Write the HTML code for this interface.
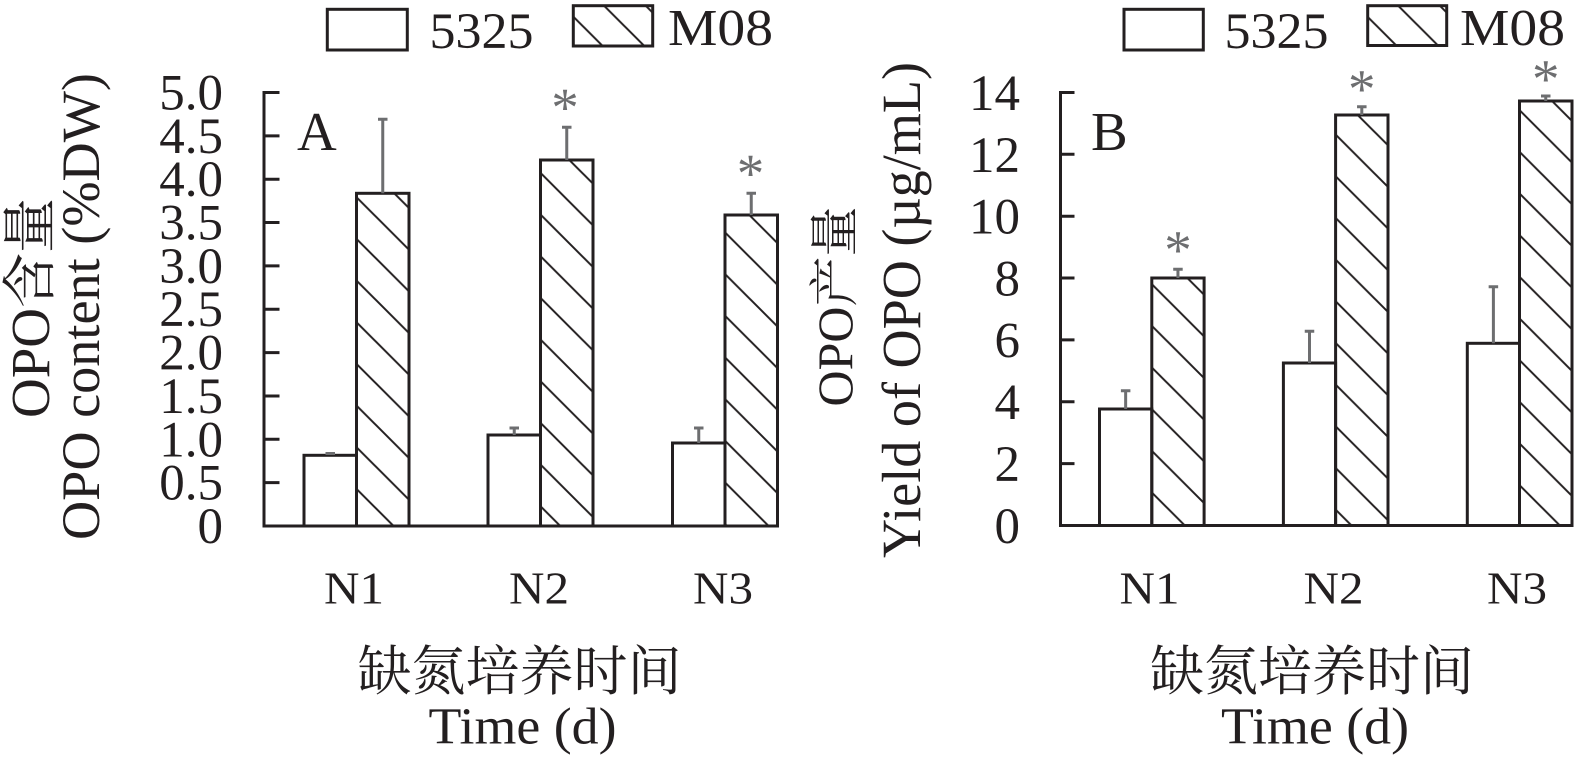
<!DOCTYPE html>
<html>
<head>
<meta charset="utf-8">
<style>
html,body{margin:0;padding:0;background:#fff;}
svg{display:block;}
text{font-family:"Liberation Serif","Noto Serif CJK SC",serif;fill:#231f20;}
.cjk{font-family:"Liberation Serif","Noto Serif CJK SC","Noto Sans CJK SC",serif;}
.star{fill:#6d6e70;font-size:55px;}
</style>
</head>
<body>
<svg width="1575" height="766" viewBox="0 0 1575 766" xmlns="http://www.w3.org/2000/svg">
<defs>
  <pattern id="h" patternUnits="userSpaceOnUse" x="0" y="7.4" width="41.67" height="41.67">
    <path d="M-10,-10 L51.67,51.67 M-51.67,-10 L10,51.67 M31.67,-10 L93.34,51.67" stroke="#231f20" stroke-width="2" fill="none"/>
  </pattern>
  <pattern id="hA" patternUnits="userSpaceOnUse" x="0" y="26.7" width="41.67" height="41.67">
    <path d="M-10,-10 L51.67,51.67 M-51.67,-10 L10,51.67 M31.67,-10 L93.34,51.67" stroke="#231f20" stroke-width="2" fill="none"/>
  </pattern>
  <pattern id="hB" patternUnits="userSpaceOnUse" x="0" y="24.3" width="41.67" height="41.67">
    <path d="M-10,-10 L51.67,51.67 M-51.67,-10 L10,51.67 M31.67,-10 L93.34,51.67" stroke="#231f20" stroke-width="2" fill="none"/>
  </pattern>
</defs>

<!-- ===================== Panel A ===================== -->
<rect x="327.3" y="9.3" width="80" height="40.7" fill="#fff" stroke="#231f20" stroke-width="3"/>
<text x="429.5" y="48" font-size="51" textLength="104" lengthAdjust="spacingAndGlyphs">5325</text>
<rect x="573.3" y="5.7" width="79.4" height="40.3" fill="url(#hA)" stroke="#231f20" stroke-width="3"/>
<text x="668" y="45" font-size="52" textLength="105" lengthAdjust="spacingAndGlyphs">M08</text>

<text class="cjk" transform="translate(49,308) rotate(-90)" text-anchor="middle" font-size="55">OPO含量</text>
<text transform="translate(99,306.5) rotate(-90)" text-anchor="middle" font-size="54" textLength="467" lengthAdjust="spacingAndGlyphs">OPO content (%DW)</text>

<g font-size="51" text-anchor="end">
  <text x="223" y="543">0</text>
  <text x="223" y="499.6">0.5</text>
  <text x="223" y="456.3">1.0</text>
  <text x="223" y="413">1.5</text>
  <text x="223" y="369.6">2.0</text>
  <text x="223" y="326.2">2.5</text>
  <text x="223" y="282.9">3.0</text>
  <text x="223" y="239.5">3.5</text>
  <text x="223" y="196.2">4.0</text>
  <text x="223" y="152.8">4.5</text>
  <text x="223" y="109.5">5.0</text>
</g>

<text x="297" y="150" font-size="55">A</text>

<g stroke="#231f20" stroke-width="3">
  <rect x="304" y="455.3" width="52.5" height="70.7" fill="#fff"/>
  <rect x="356.5" y="193.3" width="52.5" height="332.7" fill="url(#h)"/>
  <rect x="488" y="435" width="52.5" height="91" fill="#fff"/>
  <rect x="540.5" y="160" width="52.5" height="366" fill="url(#h)"/>
  <rect x="672.5" y="443" width="52.5" height="83" fill="#fff"/>
  <rect x="725" y="215" width="52.5" height="311" fill="url(#h)"/>
</g>

<g stroke="#6d6e70" stroke-width="3" fill="none">
  <path d="M325.5,453.5 H335"/>
  <path d="M514.25,435 V428 M509.5,428 H519"/>
  <path d="M698.75,443 V428 M694,428 H703.5"/>
  <path d="M382.75,193.3 V119.3 M378,119.3 H387.5"/>
  <path d="M566.75,160 V127.3 M562,127.3 H571.5"/>
  <path d="M751.25,215 V193.3 M746.5,193.3 H756"/>
</g>
<text class="star" x="565" y="126" text-anchor="middle">*</text>
<text class="star" x="750.5" y="192" text-anchor="middle">*</text>

<g stroke="#231f20" stroke-width="3" fill="none" stroke-linecap="square">
  <path d="M278,92.5 H264 V526 H777.5"/>
  <path d="M264,135.85 H278 M264,179.2 H278 M264,222.55 H278 M264,265.9 H278 M264,309.25 H278 M264,352.6 H278 M264,395.95 H278 M264,439.3 H278 M264,482.65 H278"/>
</g>

<g font-size="46" text-anchor="middle">
  <text x="354" y="603.3" textLength="60" lengthAdjust="spacingAndGlyphs">N1</text>
  <text x="539" y="603.3" textLength="60" lengthAdjust="spacingAndGlyphs">N2</text>
  <text x="723" y="603.3" textLength="60" lengthAdjust="spacingAndGlyphs">N3</text>
</g>
<text class="cjk" x="519.5" y="690" font-size="54" text-anchor="middle" textLength="324" lengthAdjust="spacingAndGlyphs">缺氮培养时间</text>
<text x="522.5" y="743.3" font-size="52" text-anchor="middle" textLength="188" lengthAdjust="spacingAndGlyphs">Time (d)</text>

<!-- ===================== Panel B ===================== -->
<rect x="1124" y="9.3" width="79.3" height="40.7" fill="#fff" stroke="#231f20" stroke-width="3"/>
<text x="1224.5" y="48" font-size="51" textLength="104" lengthAdjust="spacingAndGlyphs">5325</text>
<rect x="1367.7" y="5.7" width="79" height="39.8" fill="url(#hB)" stroke="#231f20" stroke-width="3"/>
<text x="1460" y="45" font-size="52" textLength="105" lengthAdjust="spacingAndGlyphs">M08</text>

<text class="cjk" transform="translate(852,306.5) rotate(-90)" text-anchor="middle" font-size="50">OPO产量</text>
<text transform="translate(920,310) rotate(-90)" text-anchor="middle" font-size="55" textLength="496" lengthAdjust="spacingAndGlyphs">Yield of OPO (µg/mL)</text>

<g font-size="51" text-anchor="end">
  <text x="1020" y="543">0</text>
  <text x="1020" y="481.1">2</text>
  <text x="1020" y="419.2">4</text>
  <text x="1020" y="357.4">6</text>
  <text x="1020" y="295.5">8</text>
  <text x="1020" y="233.7">10</text>
  <text x="1020" y="171.8">12</text>
  <text x="1020" y="110">14</text>
</g>

<text x="1091" y="150" font-size="55">B</text>

<g stroke="#231f20" stroke-width="3">
  <rect x="1099.5" y="409" width="52.3" height="116.5" fill="#fff"/>
  <rect x="1151.8" y="278" width="52.3" height="247.5" fill="url(#h)"/>
  <rect x="1283.4" y="363" width="52.2" height="162.5" fill="#fff"/>
  <rect x="1335.6" y="115" width="52.4" height="410.5" fill="url(#h)"/>
  <rect x="1467.3" y="343.3" width="52.2" height="182.2" fill="#fff"/>
  <rect x="1519.5" y="101" width="52.5" height="424.5" fill="url(#h)"/>
</g>

<g stroke="#6d6e70" stroke-width="3" fill="none">
  <path d="M1125.65,409 V390.7 M1120.9,390.7 H1130.4"/>
  <path d="M1309.5,363 V331.3 M1304.75,331.3 H1314.25"/>
  <path d="M1493.4,343.3 V286.7 M1488.65,286.7 H1498.15"/>
  <path d="M1177.95,278 V269.3 M1173.2,269.3 H1182.7"/>
  <path d="M1361.8,115 V106.7 M1357.05,106.7 H1366.55"/>
  <path d="M1545.75,101 V96 M1541,96 H1550.5"/>
</g>
<text class="star" x="1178" y="268.7" text-anchor="middle">*</text>
<text class="star" x="1361.8" y="107.7" text-anchor="middle">*</text>
<text class="star" x="1545.7" y="97.7" text-anchor="middle">*</text>

<g stroke="#231f20" stroke-width="3" fill="none" stroke-linecap="square">
  <path d="M1073,92.5 H1060.5 V525.5 H1572"/>
  <path d="M1060.5,154.3 H1073 M1060.5,216.2 H1073 M1060.5,278 H1073 M1060.5,339.9 H1073 M1060.5,401.7 H1073 M1060.5,463.6 H1073"/>
</g>

<g font-size="46" text-anchor="middle">
  <text x="1149.5" y="603.3" textLength="60" lengthAdjust="spacingAndGlyphs">N1</text>
  <text x="1333.5" y="603.3" textLength="60" lengthAdjust="spacingAndGlyphs">N2</text>
  <text x="1517" y="603.3" textLength="60" lengthAdjust="spacingAndGlyphs">N3</text>
</g>
<text class="cjk" x="1312" y="690" font-size="54" text-anchor="middle" textLength="324" lengthAdjust="spacingAndGlyphs">缺氮培养时间</text>
<text x="1315" y="743.3" font-size="52" text-anchor="middle" textLength="188" lengthAdjust="spacingAndGlyphs">Time (d)</text>
</svg>
</body>
</html>
